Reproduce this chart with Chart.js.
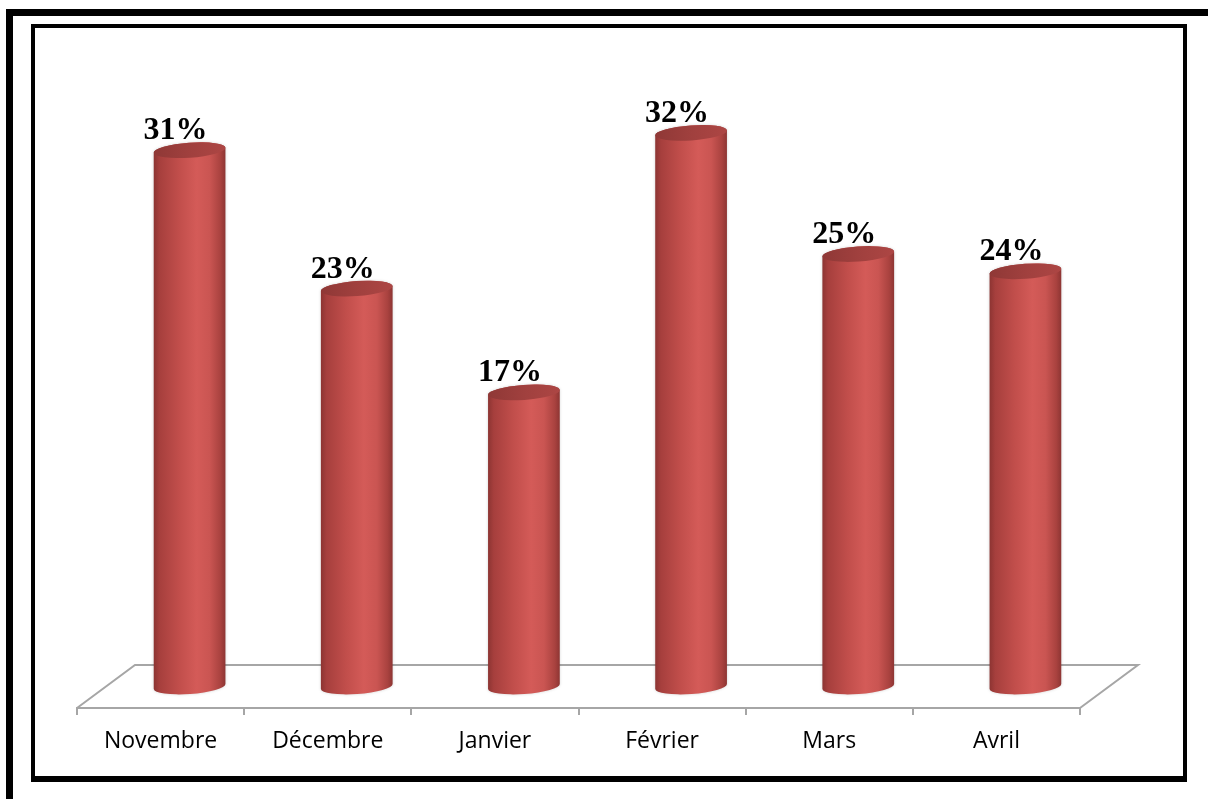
<!DOCTYPE html>
<html lang="fr">
<head>
<meta charset="utf-8">
<title>Répartition mensuelle</title>
<script src="https://cdn.jsdelivr.net/npm/chart.js@4.4.0/dist/chart.umd.min.js"></script>
<style>
  html, body { margin: 0; padding: 0; background: #fff; overflow: hidden; }
  #wrap { position: relative; width: 1208px; height: 799px; }
  #chart { position: absolute; left: 0; top: 0; }
  .frame { position: absolute; box-sizing: border-box; pointer-events: none; }
  #outer { left: 6px; top: 9px; width: 1210px; height: 820px; border: 7px solid #000; }
  #inner { left: 31px; top: 24px; width: 1156px; height: 758px; border: 4px solid #000; border-bottom-width: 6px; }
</style>
</head>
<body>
<div id="wrap">
  <canvas id="chart" width="1208" height="799"></canvas>
  <div class="frame" id="outer"></div>
  <div class="frame" id="inner"></div>
</div>
<script>
const months = ['Novembre', 'Décembre', 'Janvier', 'Février', 'Mars', 'Avril'];
const shares = [31, 23, 17, 32, 25, 24];
const yTicks = { min: 0, max: 35 };

// depth of the floor plane (back edge offset from the front edge)
const DEPTH_X = 58;
const DEPTH_Y = 43;
const FLOOR_COLOR = '#a6a6a6';

/* Floor drawn as a parallelogram behind the bars; the front edge is the x axis line. */
function drawFloor(chart) {
    const { ctx, chartArea } = chart;
    const x = chart.scales.x;
    const front = chartArea.bottom;
    const back = front - DEPTH_Y;
    ctx.save();
    ctx.strokeStyle = FLOOR_COLOR;
    ctx.lineWidth = 2;
    ctx.beginPath();
    ctx.moveTo(x.left, front);
    ctx.lineTo(x.left + DEPTH_X, back);
    ctx.lineTo(x.right + DEPTH_X, back);
    ctx.lineTo(x.right, front);
    ctx.stroke();
    ctx.restore();
}

/* One shaded cylinder standing in the middle of the floor depth. */
function drawCylinder(ctx, cx, topY, baseY, rx) {
    const ry = 7.5;
    const rot = -0.07;

    const body = ctx.createLinearGradient(cx - rx, 0, cx + rx, 0);
    body.addColorStop(0, '#8c3432');
    body.addColorStop(0.08, '#a63f3d');
    body.addColorStop(0.35, '#c14e4b');
    body.addColorStop(0.6, '#d45b58');
    body.addColorStop(0.78, '#ca5552');
    body.addColorStop(0.93, '#a9423f');
    body.addColorStop(1, '#8d3533');

    ctx.save();
    ctx.shadowColor = 'rgba(0, 0, 0, 0.18)';
    ctx.shadowBlur = 3;
    ctx.beginPath();
    ctx.ellipse(cx, topY, rx, ry, rot, Math.PI, 2 * Math.PI, false);
    ctx.ellipse(cx, baseY, rx, ry, rot, 0, Math.PI, false);
    ctx.closePath();
    ctx.fillStyle = body;
    ctx.fill();
    ctx.restore();

    const cap = ctx.createLinearGradient(cx - rx, 0, cx + rx, 0);
    cap.addColorStop(0, '#8f3836');
    cap.addColorStop(0.5, '#a0403e');
    cap.addColorStop(1, '#ad4644');
    ctx.beginPath();
    ctx.ellipse(cx, topY, rx, ry, rot, 0, 2 * Math.PI);
    ctx.fillStyle = cap;
    ctx.fill();
}

const cylinderPlugin = {
    id: 'cylinders',
    beforeDatasetsDraw(chart) {
        drawFloor(chart);
    },
    afterDatasetsDraw(chart) {
        const ctx = chart.ctx;
        const meta = chart.getDatasetMeta(0);
        meta.data.forEach((bar, i) => {
            const cx = bar.x + DEPTH_X / 2;
            const topY = bar.y - DEPTH_Y / 2;
            const baseY = bar.base - DEPTH_Y / 2;
            drawCylinder(ctx, cx, topY, baseY, bar.width / 2);

            ctx.save();
            ctx.fillStyle = '#000';
            ctx.font = 'bold 32px "Liberation Serif", "Times New Roman", serif';
            ctx.textAlign = 'center';
            ctx.textBaseline = 'alphabetic';
            ctx.fillText(shares[i] + '%', cx - 14, topY - 11);
            ctx.restore();
        });
    }
};

const canvas = document.getElementById('chart');
new Chart(canvas.getContext('2d'), {
    type: 'bar',
    data: {
        labels: months,
        datasets: [{
            data: shares,
            backgroundColor: 'rgba(0, 0, 0, 0)',
            borderWidth: 0,
            categoryPercentage: 1,
            barPercentage: 0.43
        }]
    },
    options: {
        responsive: false,
        animation: false,
        layout: { padding: { left: 77, right: 128, top: 102.5, bottom: 31 } },
        plugins: {
            legend: { display: false },
            tooltip: { enabled: false }
        },
        scales: {
            x: {
                offset: true,
                afterFit: (scale) => { scale.height = 60; },
                grid: {
                    offset: true,
                    drawOnChartArea: false,
                    drawTicks: true,
                    tickLength: 7,
                    color: FLOOR_COLOR,
                    lineWidth: 2
                },
                border: { display: true, color: FLOOR_COLOR, width: 2 },
                ticks: {
                    color: '#000',
                    padding: 13,
                    font: { family: '"Open Sans", sans-serif', size: 23 }
                }
            },
            y: {
                display: false,
                min: yTicks.min,
                max: yTicks.max
            }
        }
    },
    plugins: [cylinderPlugin]
});
</script>
</body>
</html>
